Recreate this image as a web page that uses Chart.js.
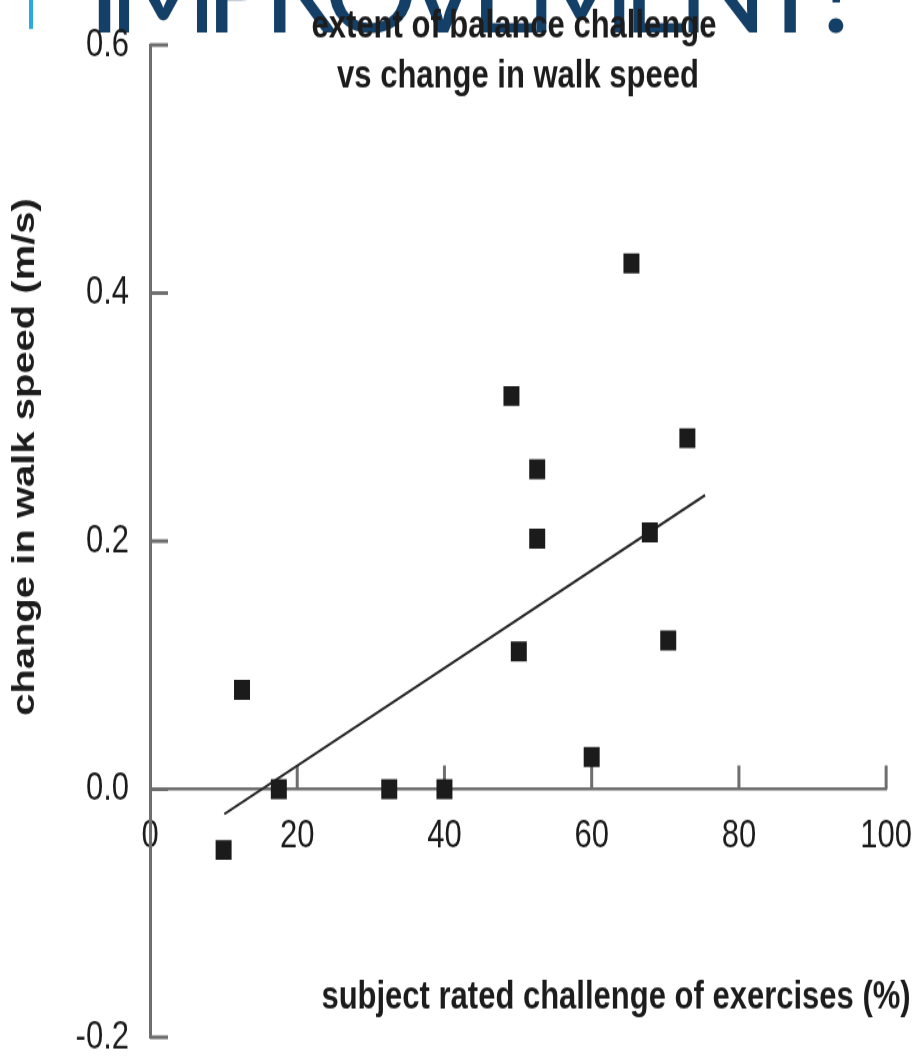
<!DOCTYPE html>
<html>
<head>
<meta charset="utf-8">
<script src="https://cdn.jsdelivr.net/npm/chart.js@4.4.1/dist/chart.umd.min.js"></script>
<style>
  html, body { margin: 0; padding: 0; background: #fff; }
</style>
</head>
<body>
<!-- a figura original está esticada na vertical: o canvas tem 845px e é mostrado com 1056px -->
<canvas id="balanceChart" width="923" height="845" style="width: 923px; height: 1056px;"></canvas>
<script>
// valores (desafio % x mudança na velocidade m/s)
const challengeX = [10, 12.5, 17.5, 32.5, 40, 49.1, 50.1, 52.6, 52.6, 60, 65.4, 67.9, 70.4, 73];
const speedY = [-0.049, 0.08, 0, 0, 0, 0.317, 0.111, 0.258, 0.202, 0.026, 0.424, 0.207, 0.12, 0.283];
// linha de tendência
const trendX = [10.1, 75.4];
const trendY = [-0.02, 0.237];
// ticks dos eixos
const xTicks = [0, 20, 40, 60, 80, 100];
const yTicks = [-0.2, 0, 0.2, 0.4, 0.6];
// textos
const titleLines = ['extent of balance challenge', 'vs change in walk speed'];
const xTitle = 'subject rated challenge of exercises (%)';
const yTitle = 'change in walk speed (m/s)';
const slideTitle = 'IMPROVEMENT?';

const STRETCH = 1056 / 845;
const SANS = "'Liberation Sans', Arial, Helvetica, sans-serif";
const AXIS_GRAY = '#6f6f6f';
const INK = '#1c1c1c';

// título do slide, ticks internos e textos
const decorPlugin = {
  id: 'decor',
  beforeDraw(chart) {
    const ctx = chart.ctx;
    ctx.save();
    ctx.fillStyle = '#fff';
    ctx.fillRect(0, 0, chart.width, chart.height);
    // desfaz o esticamento para o título do slide
    ctx.scale(1, 1 / STRETCH);
    ctx.fillStyle = '#29abe2';
    ctx.fillRect(29, 0, 4, 29);
    ctx.fillStyle = '#143f66';
    ctx.font = "400 118px Lato, 'Open Sans', sans-serif";
    ctx.textBaseline = 'alphabetic';
    ctx.textAlign = 'left';
    const w = ctx.measureText(slideTitle).width;
    const spacing = (865 - 88 - w) / (slideTitle.length - 1);
    ctx.letterSpacing = spacing + 'px';
    ctx.fillText(slideTitle, 88, 33);
    ctx.restore();
  },
  beforeDatasetsDraw(chart) {
    const ctx = chart.ctx;
    const xs = chart.scales.x, ys = chart.scales.y;
    const y0 = ys.getPixelForValue(0);
    const left = chart.chartArea.left;
    ctx.save();
    ctx.strokeStyle = AXIS_GRAY;
    ctx.lineWidth = 3;
    ctx.beginPath();
    xTicks.forEach(v => {
      if (v === 0) return;
      const px = xs.getPixelForValue(v);
      ctx.moveTo(px, y0);
      ctx.lineTo(px, y0 - 19);
    });
    yTicks.forEach(v => {
      const py = ys.getPixelForValue(v);
      ctx.moveTo(left, py);
      ctx.lineTo(left + 18, py);
    });
    ctx.stroke();
    ctx.restore();
  },
  afterDraw(chart) {
    const ctx = chart.ctx;
    ctx.save();
    ctx.fillStyle = INK;
    ctx.textAlign = 'center';
    ctx.textBaseline = 'alphabetic';
    ctx.font = 'bold 31px ' + SANS;
    ctx.fillText(titleLines[0], 514, 30.4);
    ctx.fillText(titleLines[1], 518, 69.6);
    ctx.fillText(xTitle, 616, 807);
    // título do eixo y, rotacionado
    ctx.translate(25, 365.7);
    ctx.rotate(-Math.PI / 2);
    ctx.textBaseline = 'middle';
    ctx.font = 'bold 32px ' + SANS;
    ctx.fillText(yTitle, 0, 0);
    ctx.restore();
  }
};

const ctxChart = document.getElementById('balanceChart').getContext('2d');
const balanceChart = new Chart(ctxChart, {
  type: 'scatter',
  data: {
    datasets: [{
      label: 'subjects',
      data: challengeX.map((x, i) => ({ x: x, y: speedY[i] })),
      pointStyle: 'rect',
      pointRadius: 11.3,
      pointHoverRadius: 11.3,
      pointBorderWidth: 0,
      backgroundColor: '#1b1b1b',
      borderColor: '#1b1b1b',
      order: 1
    }, {
      type: 'line',
      label: 'trend',
      data: trendX.map((x, i) => ({ x: x, y: trendY[i] })),
      borderColor: '#2a2a2a',
      borderWidth: 2.2,
      pointRadius: 0,
      fill: false,
      tension: 0,
      order: 2
    }]
  },
  options: {
    responsive: false,
    animation: false,
    devicePixelRatio: 1,
    layout: { padding: { top: 36, bottom: 15, left: 0, right: 30.5 } },
    plugins: {
      legend: { display: false },
      title: { display: false },
      tooltip: { enabled: false }
    },
    scales: {
      x: {
        type: 'linear',
        position: { y: 0 },
        min: 0,
        max: 100,
        afterBuildTicks: scale => { scale.ticks = xTicks.map(v => ({ value: v })); },
        grid: { display: false },
        border: { display: true, color: AXIS_GRAY, width: 2.6 },
        ticks: {
          color: INK,
          padding: 11,
          maxRotation: 0,
          autoSkip: false,
          font: { family: SANS, size: 31 }
        }
      },
      y: {
        type: 'linear',
        position: 'left',
        min: -0.2,
        max: 0.6,
        afterBuildTicks: scale => { scale.ticks = yTicks.map(v => ({ value: v })); },
        afterFit: scale => {
          scale.width = 150;
          scale.paddingTop = 0;
          scale.paddingBottom = 0;
        },
        grid: { display: false },
        border: { display: true, color: AXIS_GRAY, width: 3 },
        ticks: {
          color: INK,
          padding: 13,
          callback: v => v.toFixed(1),
          font: { family: SANS, size: 31 }
        }
      }
    }
  },
  plugins: [decorPlugin]
});
</script>
</body>
</html>
